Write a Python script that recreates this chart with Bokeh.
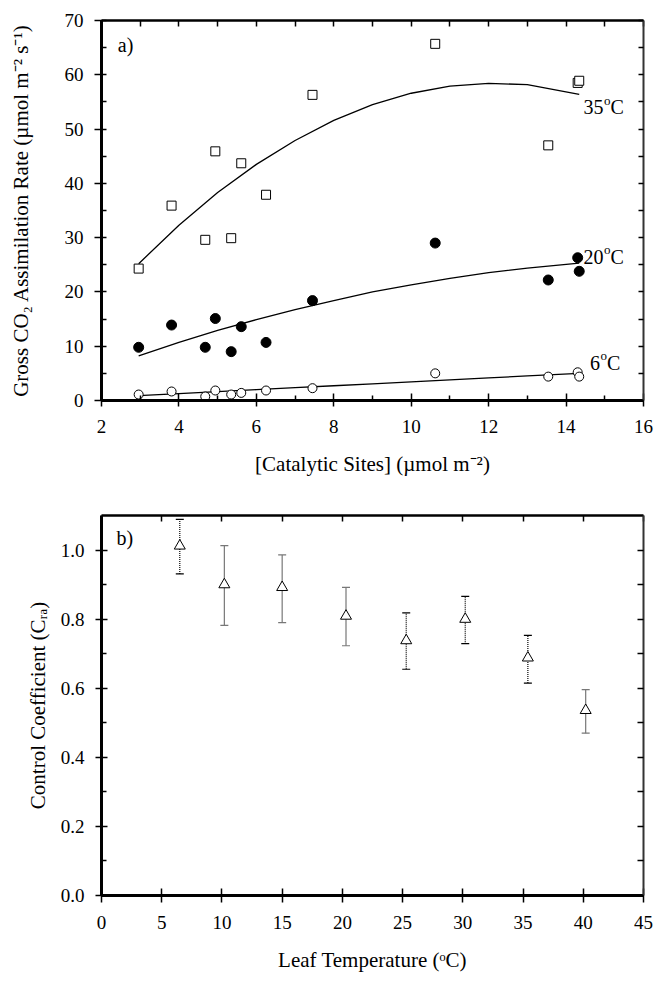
from bokeh.plotting import figure
from bokeh.layouts import column
from bokeh.models import (ColumnDataSource, Range1d, LinearAxis, FixedTicker, Whisker,
                          TeeHead, Label, CustomJSTickFormatter, NumeralTickFormatter)
from bokeh.embed import file_html
from bokeh.resources import INLINE

FONT = "Liberation Serif"

# ---------------- data: panel a ----------------
sites = [2.96, 3.81, 4.68, 4.94, 5.35, 5.61, 6.25, 7.45, 10.62, 13.54, 14.30, 14.34]
rate_35 = [24.3, 35.9, 29.6, 45.9, 29.9, 43.7, 37.9, 56.3, 65.7, 47.0, 58.5, 58.9]
rate_20 = [9.8, 13.9, 9.8, 15.1, 9.0, 13.6, 10.7, 18.4, 29.0, 22.2, 26.3, 23.8]
rate_6 = [1.1, 1.66, 0.74, 1.84, 1.1, 1.4, 1.84, 2.27, 5.0, 4.4, 5.2, 4.4]

fit_x = [2.96, 4, 5, 6, 7, 8, 9, 10, 11, 12, 13, 14.34]
fit_35 = [25.2, 32.3, 38.3, 43.5, 47.9, 51.6, 54.5, 56.6, 57.9, 58.4, 58.2, 56.4]
fit_20 = [8.2, 10.7, 12.9, 14.9, 16.75, 18.4, 20.0, 21.3, 22.5, 23.55, 24.4, 25.3]
fit_6 = [0.9, 1.28, 1.64, 2.0, 2.36, 2.72, 3.08, 3.44, 3.8, 4.17, 4.53, 5.0]

# ---------------- data: panel b ----------------
leaf_temp = [6.5, 10.2, 15.0, 20.3, 25.3, 30.2, 35.4, 40.2]
coef = [1.012, 0.90, 0.892, 0.809, 0.738, 0.80, 0.688, 0.536]
coef_hi = [1.089, 1.013, 0.986, 0.892, 0.818, 0.866, 0.753, 0.596]
coef_lo = [0.931, 0.782, 0.79, 0.723, 0.655, 0.729, 0.615, 0.47]

a_xticks = [2, 4, 6, 8, 10, 12, 14, 16]
a_yticks = [0, 10, 20, 30, 40, 50, 60, 70]
b_xticks = [0, 5, 10, 15, 20, 25, 30, 35, 40, 45]
b_yticks = [0.0, 0.2, 0.4, 0.6, 0.8, 1.0]

# ---------------- helpers ----------------
BLANK = CustomJSTickFormatter(code="return ''")


def add_axis(p, side, ticks, minor, t_in, t_out, m_in, lw, color="black",
             labelled=False, title=None, standoff=10, title_standoff=10, fmt=None):
    ax = LinearAxis(ticker=FixedTicker(ticks=ticks, minor_ticks=minor))
    ax.axis_line_width = lw
    ax.axis_line_color = color
    ax.major_tick_in = t_in
    ax.major_tick_out = t_out
    ax.minor_tick_in = m_in
    ax.minor_tick_out = 0
    ax.major_tick_line_width = 1.5
    ax.minor_tick_line_width = 1.5
    ax.major_tick_line_color = "black"
    ax.minor_tick_line_color = "black"
    if labelled:
        ax.major_label_text_font = FONT
        ax.major_label_text_font_style = "normal"
        ax.major_label_text_font_size = "19px"
        ax.major_label_text_color = "black"
        ax.major_label_standoff = standoff
        if fmt is not None:
            ax.formatter = fmt
        if title:
            ax.axis_label = title
            ax.axis_label_text_font = FONT
            ax.axis_label_text_font_size = "21px"
            ax.axis_label_text_font_style = "normal"
            ax.axis_label_text_color = "black"
            ax.axis_label_standoff = title_standoff
    else:
        ax.formatter = BLANK
        ax.major_label_standoff = 0
        ax.major_label_text_font_size = "1px"
    p.add_layout(ax, side)
    return ax


def deg_label(p, x, y, num):
    p.add_layout(Label(x=x, y=y, text=num, text_font=FONT, text_font_size="20px",
                       text_baseline="middle", text_color="black"))
    w = 10 * len(num)
    p.add_layout(Label(x=x, y=y, x_offset=w + 0.5, y_offset=7, text="o", text_font=FONT,
                       text_font_size="13px", text_baseline="middle", text_color="black"))
    p.add_layout(Label(x=x, y=y, x_offset=w + 7, text="C", text_font=FONT,
                       text_font_size="20px", text_baseline="middle", text_color="black"))


# ---------------- panel a ----------------
p1 = figure(frame_width=542, frame_height=380, x_range=Range1d(2, 16), y_range=Range1d(0, 70),
            output_backend="svg", toolbar_location=None, x_axis_location=None,
            y_axis_location=None, min_border_left=101, min_border_right=19,
            min_border_top=20, min_border_bottom=90)
p1.xgrid.visible = False
p1.ygrid.visible = False
p1.outline_line_color = None

add_axis(p1, "below", a_xticks, [3, 5, 7, 9, 11, 13, 15], 7, 6, 5, 3, labelled=True,
         title="[Catalytic Sites] (µmol m⁻²)", standoff=13, title_standoff=16)
add_axis(p1, "left", a_yticks, [5, 15, 25, 35, 45, 55, 65], 5, 7, 5, 3, labelled=True,
         title="Gross CO₂ Assimilation Rate (µmol m⁻² s⁻¹)", standoff=11, title_standoff=29)
add_axis(p1, "above", list(range(2, 17)), [], 6, 0, 0, 2.5)
add_axis(p1, "right", list(range(0, 71, 5)), [], 5, 0, 0, 2, color="#333333")

src_a = ColumnDataSource(dict(x=sites, r35=rate_35, r20=rate_20, r6=rate_6))
src_fit = ColumnDataSource(dict(x=fit_x, f35=fit_35, f20=fit_20, f6=fit_6))

for col in ["f35", "f20", "f6"]:
    p1.line("x", col, source=src_fit, line_color="black", line_width=1.3)

p1.scatter("x", "r35", source=src_a, marker="square", size=9, fill_color="white",
           line_color="black", line_width=1)
p1.scatter("x", "r20", source=src_a, marker="circle", size=10, fill_color="black",
           line_color="black", line_width=1)
p1.scatter("x", "r6", source=src_a, marker="circle", size=9, fill_color="white",
           line_color="black", line_width=1)

deg_label(p1, 14.45, 54.0, "35")
deg_label(p1, 14.45, 26.5, "20")
deg_label(p1, 14.62, 7.0, "6")
p1.add_layout(Label(x=2.42, y=65.4, text="a)", text_font=FONT, text_font_size="20px",
                    text_baseline="middle", text_color="black"))

# ---------------- panel b ----------------
p2 = figure(frame_width=542, frame_height=380, x_range=Range1d(0, 45), y_range=Range1d(0, 1.1),
            output_backend="svg", toolbar_location=None, x_axis_location=None,
            y_axis_location=None, min_border_left=101, min_border_right=19,
            min_border_top=25, min_border_bottom=80)
p2.xgrid.visible = False
p2.ygrid.visible = False
p2.outline_line_color = None

add_axis(p2, "below", b_xticks, [], 7, 7, 0, 3, labelled=True,
         title="Leaf Temperature (ᵒC)", standoff=13, title_standoff=16)
add_axis(p2, "left", b_yticks, [0.1, 0.3, 0.5, 0.7, 0.9], 6, 6, 5, 3, labelled=True,
         title="Control Coefficient (Cᵣₐ)", standoff=11, title_standoff=8,
         fmt=NumeralTickFormatter(format="0.0"))
add_axis(p2, "above", b_xticks, [], 6, 0, 0, 2.5)
add_axis(p2, "right", [0.0, 0.1, 0.2, 0.3, 0.4, 0.5, 0.6, 0.7, 0.8, 0.9, 1.0], [], 6, 0, 0, 2,
         color="#333333")

dotted_idx = [0, 4, 5, 6]
solid_idx = [1, 2, 3, 7]


def sub(lst, idx):
    return [lst[i] for i in idx]


for idx, color, dash in [(dotted_idx, "black", "1 1"), (solid_idx, "#777777", "solid")]:
    s = ColumnDataSource(dict(x=sub(leaf_temp, idx), hi=sub(coef_hi, idx), lo=sub(coef_lo, idx)))
    w = Whisker(source=s, base="x", upper="hi", lower="lo", dimension="height",
                line_color=color, line_width=1.2, line_dash=dash,
                upper_head=TeeHead(size=8, line_color=color, line_width=1.2),
                lower_head=TeeHead(size=8, line_color=color, line_width=1.2))
    p2.add_layout(w)

src_b = ColumnDataSource(dict(x=leaf_temp, y=coef))
p2.scatter("x", "y", source=src_b, marker="triangle", size=11, fill_color="white",
           line_color="black", line_width=1)

p2.add_layout(Label(x=1.25, y=1.035, text="b)", text_font=FONT, text_font_size="20px",
                    text_baseline="middle", text_color="black"))

layout = column(p1, p2, spacing=0)
open("out.html", "w").write(file_html(layout, INLINE))
